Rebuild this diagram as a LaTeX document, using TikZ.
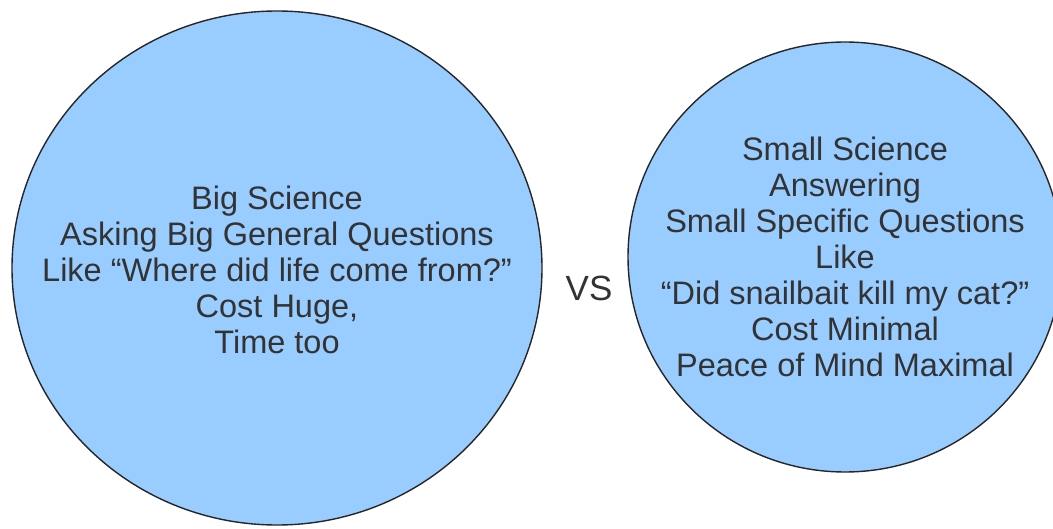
\documentclass[tikz,border=0pt]{standalone}
\usepackage{fontspec}
\setmainfont{Liberation Sans}
\definecolor{bubblefill}{HTML}{99CCFF}
\definecolor{inktext}{HTML}{333333}
\begin{document}
\begin{tikzpicture}[x=1pt,y=-1pt,
  bubble/.style={draw=black!85,line width=1.4pt,fill=bubblefill},
  says/.style={text=inktext,align=center,font=\fontsize{32.5}{36}\selectfont}]
  \useasboundingbox (0,0) rectangle (1053,529);

  \filldraw[bubble] (277,268) ellipse [x radius=265, y radius=257];
  \filldraw[bubble] (845,257) ellipse [x radius=217, y radius=215];

  \node[says] (big) at (277,270)
    {Big Science\\Asking Big General Questions\\Like “Where did life come from?”\\Cost Huge,\\Time too};
  \node[says] (small) at (845,257)
    {Small Science\\Answering\\Small Specific Questions\\Like\\“Did snailbait kill my cat?”\\Cost Minimal\\Peace of Mind Maximal};

  \node[text=inktext,font=\fontsize{35}{40}\selectfont] (vs) at (589,288) {VS};
\end{tikzpicture}
\end{document}
